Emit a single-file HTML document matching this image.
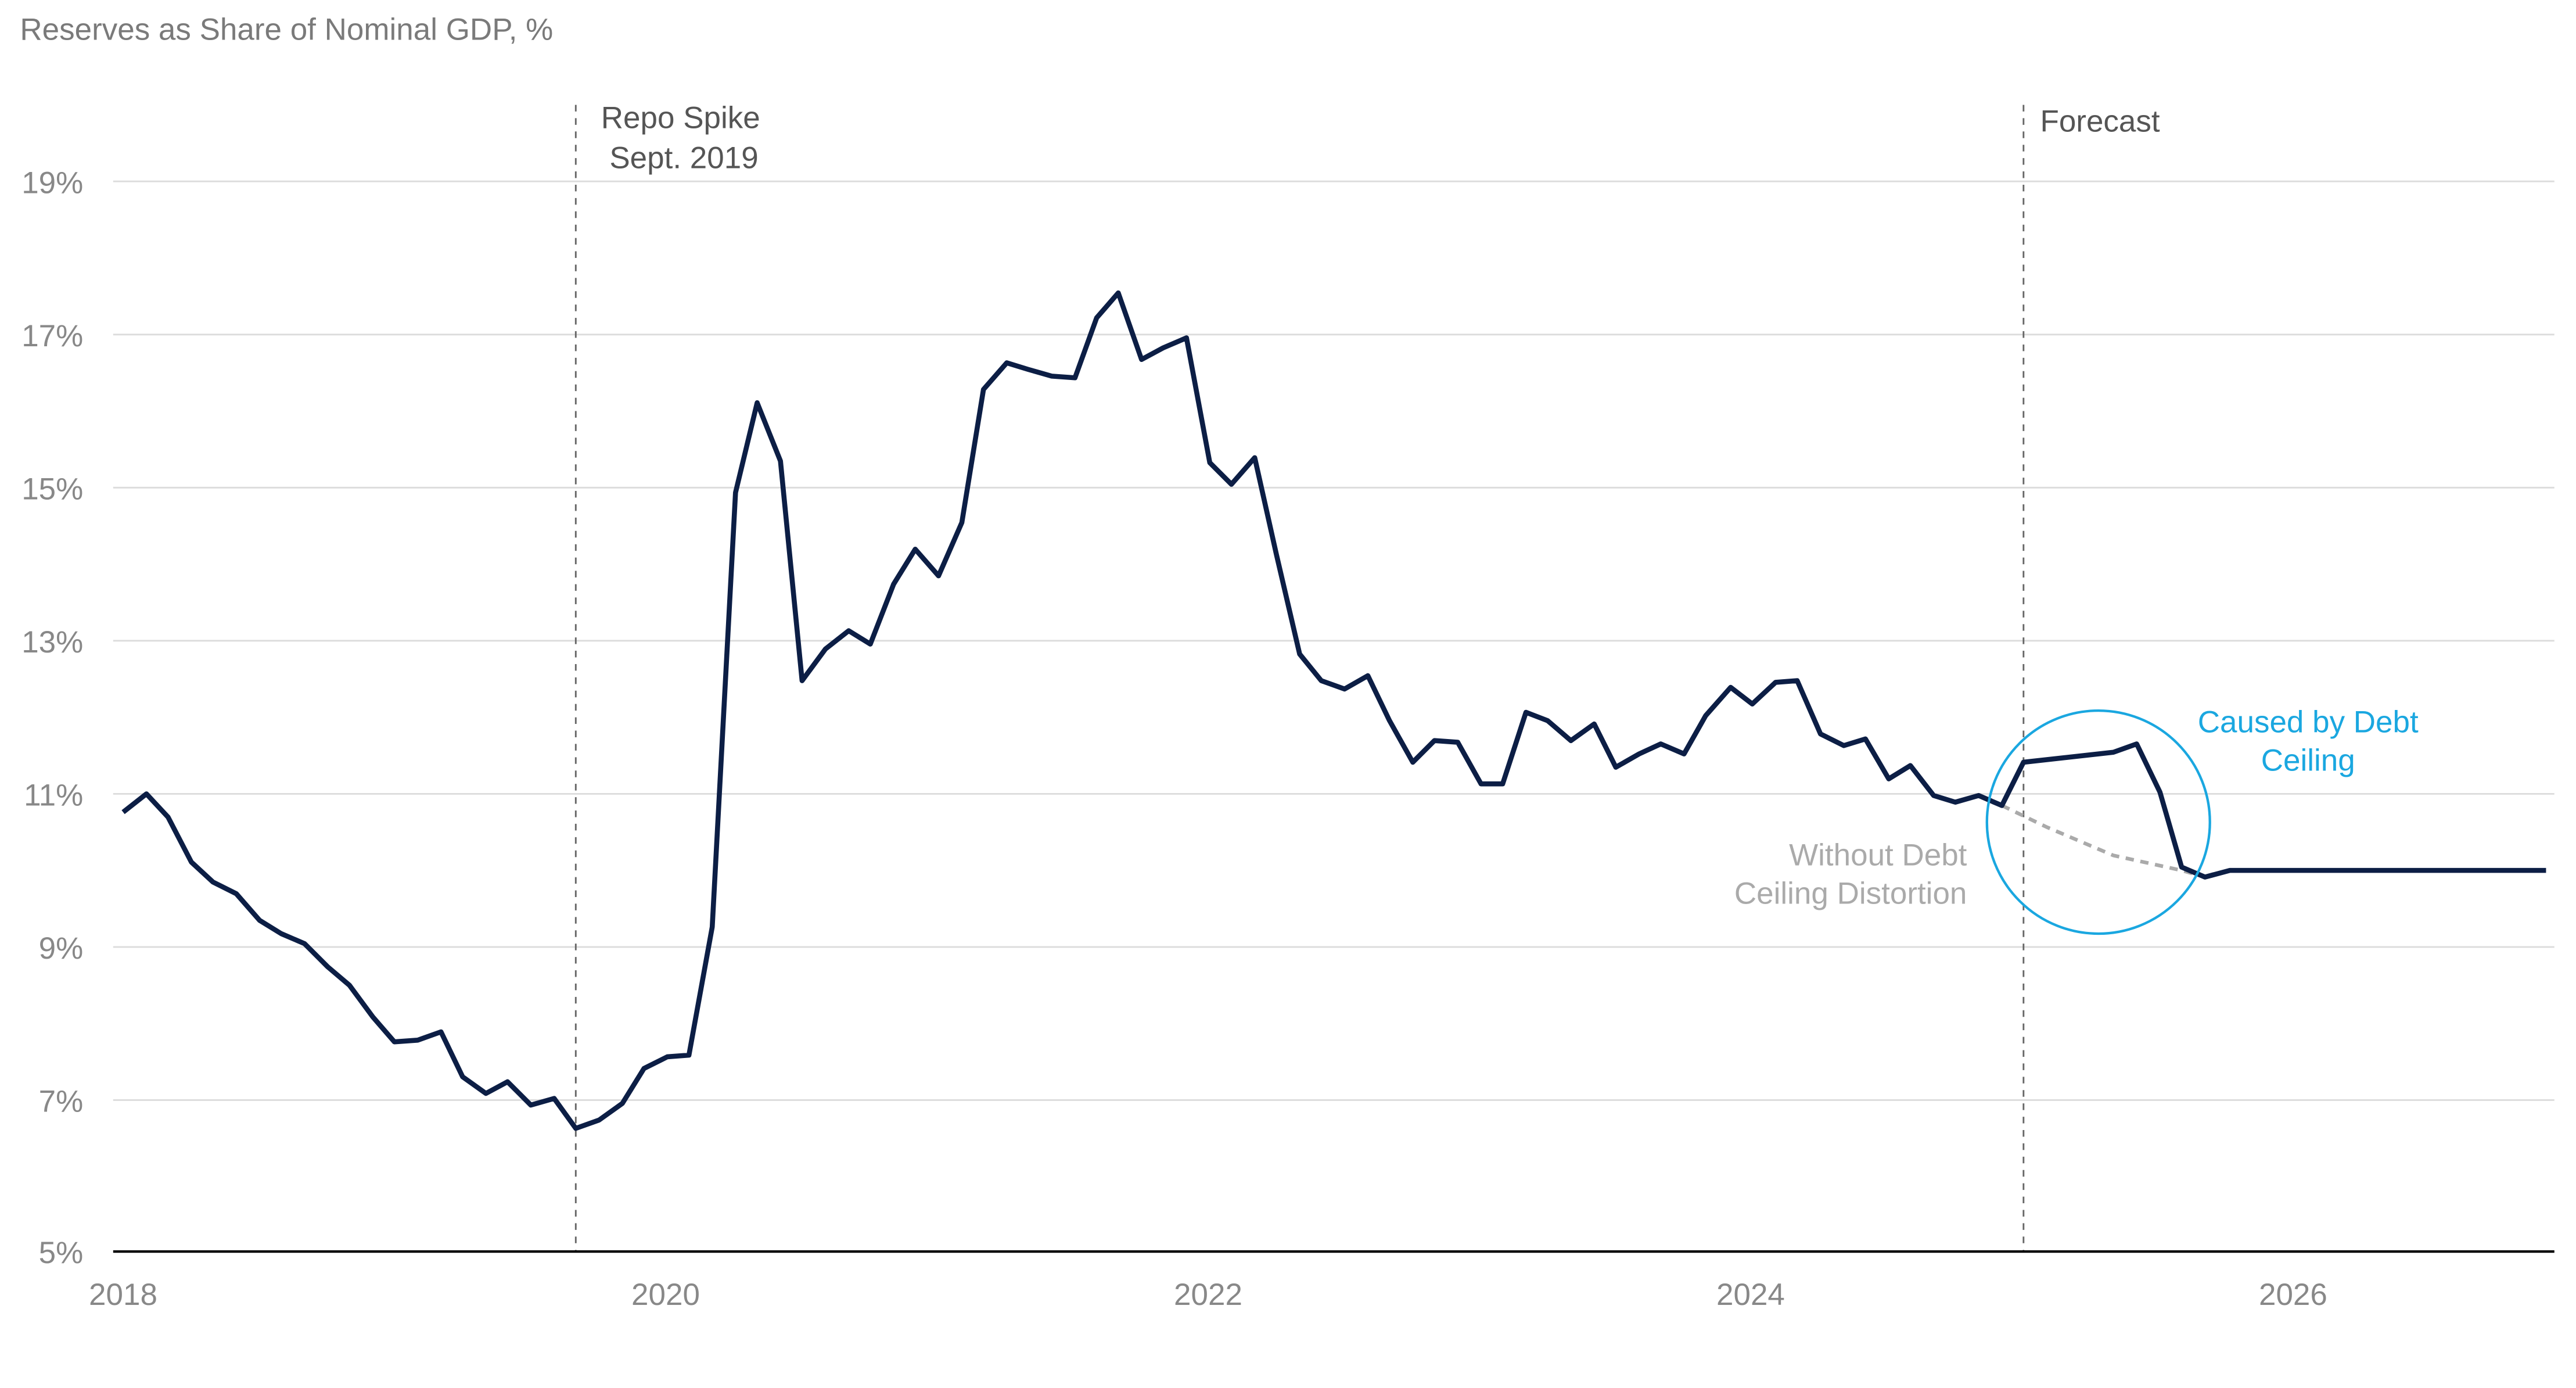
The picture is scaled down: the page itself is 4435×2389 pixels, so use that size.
<!DOCTYPE html>
<html><head><meta charset="utf-8"><style>
html,body{margin:0;padding:0;background:#fff;}
svg{display:block;}
text{font-family:"Liberation Sans",sans-serif;}
</style></head><body>
<svg width="4435" height="2389" viewBox="0 0 1548 834" preserveAspectRatio="none" xmlns="http://www.w3.org/2000/svg">
<rect width="1548" height="834" fill="#fff"/>
<text x="12" y="24" font-size="18.5" fill="#7a7a7a">Reserves as Share of Nominal GDP, %</text>
<g stroke="#dcdcdc" stroke-width="1">
<line x1="68" y1="109" x2="1535" y2="109"/>
<line x1="68" y1="201" x2="1535" y2="201"/>
<line x1="68" y1="293" x2="1535" y2="293"/>
<line x1="68" y1="385" x2="1535" y2="385"/>
<line x1="68" y1="477" x2="1535" y2="477"/>
<line x1="68" y1="569" x2="1535" y2="569"/>
<line x1="68" y1="661" x2="1535" y2="661"/>
</g>
<g font-size="18.5" fill="#888" text-anchor="end">
<text x="50" y="116">19%</text>
<text x="50" y="208">17%</text>
<text x="50" y="300">15%</text>
<text x="50" y="392">13%</text>
<text x="50" y="484">11%</text>
<text x="50" y="576">9%</text>
<text x="50" y="668">7%</text>
<text x="50" y="759">5%</text>
</g>
<g font-size="18.5" fill="#888" text-anchor="middle">
<text x="74" y="784">2018</text>
<text x="400" y="784">2020</text>
<text x="726" y="784">2022</text>
<text x="1052" y="784">2024</text>
<text x="1378" y="784">2026</text>
</g>
<g stroke="#666" stroke-width="1" stroke-dasharray="4,4">
<line x1="346" y1="63" x2="346" y2="752"/>
<line x1="1216" y1="63" x2="1216" y2="752"/>
</g>
<line x1="68" y1="752" x2="1535" y2="752" stroke="#000" stroke-width="1.5"/>
<g font-size="18.5" fill="#555">
<text x="409" y="77" text-anchor="middle">Repo Spike</text>
<text x="411" y="101" text-anchor="middle">Sept. 2019</text>
<text x="1226" y="79">Forecast</text>
</g>
<polyline fill="none" stroke="#aaa" stroke-width="2.2" stroke-dasharray="5,4" points="1203,484 1230,497 1270,514 1311,523 1325,527"/>
<polyline fill="none" stroke="#0c1e45" stroke-width="3" stroke-linejoin="round" points="74,488 88,477 101,491 115,518 128,530 142,537 156,553 169,561 183,567 197,581 210,592 224,611 237,626 251,625 265,620 278,647 292,657 305,650 319,664 333,660 346,678 360,673 374,663 387,642 401,635 414,634 428,557 442,296 455,242 469,277 482,409 496,390 510,379 523,387 537,351 550,330 564,346 578,314 591,234 605,218 618,222 632,226 646,227 659,191 672,176 686,216 699,209 713,203 727,278 740,291 754,275 767,333 781,393 794,409 808,414 822,406 835,433 849,458 862,445 876,446 890,471 903,471 917,428 930,433 944,445 958,435 971,461 985,453 998,447 1012,453 1025,430 1040,413 1053,423 1067,410 1080,409 1094,441 1108,448 1121,444 1135,468 1148,460 1162,478 1175,482 1189,478 1203,484 1216,458 1270,452 1284,447 1298,476 1311,521 1325,527 1340,523 1530,523"/>
<circle cx="1261" cy="494" r="67" fill="none" stroke="#1aa7e0" stroke-width="1.5"/>
<g font-size="18.5" fill="#1aa7e0" text-anchor="middle">
<text x="1387" y="440">Caused by Debt</text>
<text x="1387" y="463">Ceiling</text>
</g>
<g font-size="18.5" fill="#aaa" text-anchor="end">
<text x="1182" y="520">Without Debt</text>
<text x="1182" y="543">Ceiling Distortion</text>
</g>
</svg>
</body></html>
